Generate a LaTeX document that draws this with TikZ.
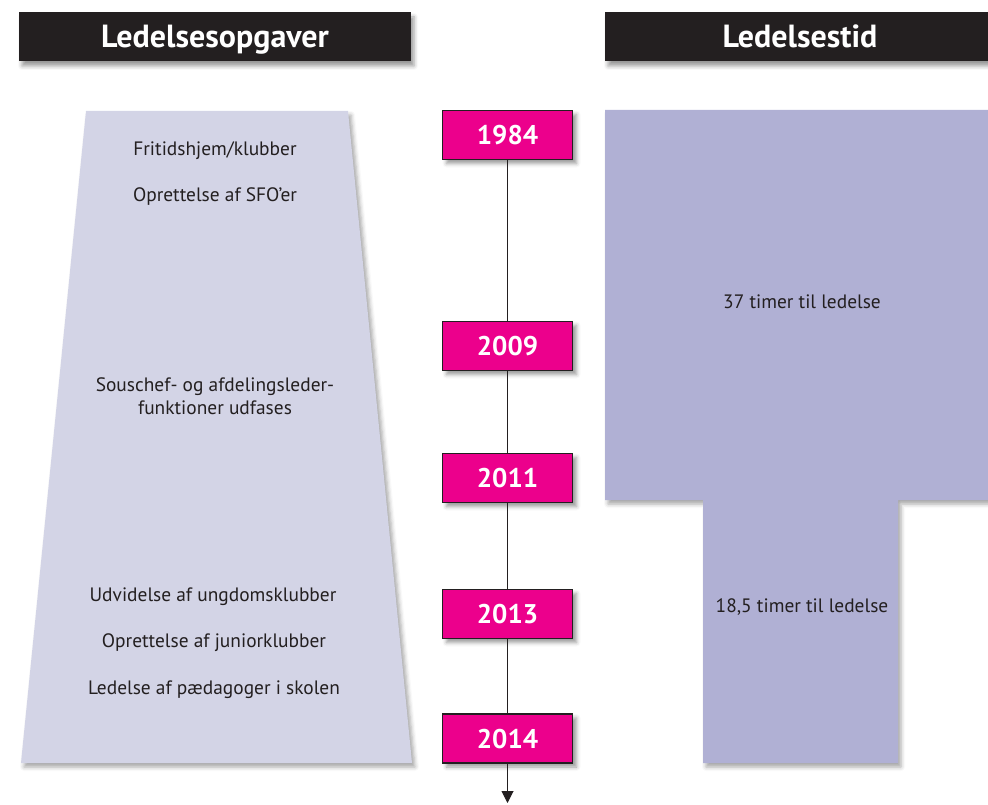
\documentclass[tikz,border=0pt]{standalone}
\usepackage{fontspec}
\setmainfont{PT Sans}
\usetikzlibrary{shadows.blur,arrows.meta}
\definecolor{hdr}{HTML}{231F20}
\definecolor{mag}{HTML}{EC008C}
\definecolor{lightlav}{HTML}{D3D4E6}
\definecolor{lav}{HTML}{B0B0D4}
\definecolor{txt}{HTML}{231F20}
\tikzset{
  hdrbox/.style={fill=hdr, text=white, font=\bfseries\fontsize{32}{36}\selectfont, inner sep=0pt,
    text height=22pt, text depth=0pt,
    blur shadow={shadow xshift=3pt, shadow yshift=-5pt, shadow blur radius=4pt, shadow opacity=40}},
  yearbox/.style={fill=mag, draw=hdr, line width=1.2pt, text=white, minimum width=130pt, minimum height=49pt,
    font=\bfseries\fontsize{27}{30}\selectfont, inner sep=0pt, text height=19pt, text depth=0pt,
    blur shadow={shadow xshift=4pt, shadow yshift=-4pt, shadow blur radius=4pt, shadow opacity=40}},
  lbl/.style={text=txt, font=\fontsize{19.4}{23}\selectfont, align=center, inner sep=0pt},
  shapeshadow/.style={blur shadow={shadow xshift=3pt, shadow yshift=-4pt, shadow blur radius=4pt, shadow opacity=35}},
  tline/.style={draw=hdr, line width=1pt}
}
\begin{document}
\begin{tikzpicture}[x=1pt,y=-1pt]
\useasboundingbox (0,0) rectangle (988,805);
% headers
\node[hdrbox, minimum width=392pt, minimum height=49pt] (h1) at (215,36.5) {Ledelsesopgaver};
\node[hdrbox, minimum width=390pt, minimum height=49pt] (h2) at (800,36.5) {Ledelsestid};
% left trapezoid
\path[fill=lightlav, shapeshadow] (86,111) -- (348,111) -- (412,763) -- (21,763) -- cycle;
% right T shape
\path[fill=lav, shapeshadow] (605,110) -- (988,110) -- (988,500) -- (898,500) -- (898,763) -- (703,763) -- (703,500) -- (605,500) -- cycle;
% labels left
\node[lbl] (t1) at (215,151) {Fritidshjem/klubber};
\node[lbl] (t2) at (215,197) {Oprettelse af SFO’er};
\node[lbl] (t3) at (215,396) {Souschef- og afdelingsleder-\\funktioner udfases};
\node[lbl] (t4) at (213,597) {Udvidelse af ungdomsklubber};
\node[lbl] (t5) at (214,643) {Oprettelse af juniorklubber};
\node[lbl] (t6) at (214,690) {Ledelse af pædagoger i skolen};
% labels right
\node[lbl] (r1) at (802,302) {37 timer til ledelse};
\node[lbl] (r2) at (802,607) {18,5 timer til ledelse};
% year boxes
\node[yearbox] (y1) at (507.5,135) {1984};
\node[yearbox] (y2) at (507.5,346) {2009};
\node[yearbox] (y3) at (507.5,478) {2011};
\node[yearbox] (y4) at (507.5,614) {2013};
\node[yearbox] (y5) at (507.5,738.5) {2014};
\coordinate (end) at (507.5,803);
% timeline
\draw[tline] (y1) -- (y2);
\draw[tline] (y2) -- (y3);
\draw[tline] (y3) -- (y4);
\draw[tline] (y4) -- (y5);
\draw[tline, -{Triangle[length=12pt,width=12pt]}] (y5) -- (end);
\end{tikzpicture}
\end{document}
